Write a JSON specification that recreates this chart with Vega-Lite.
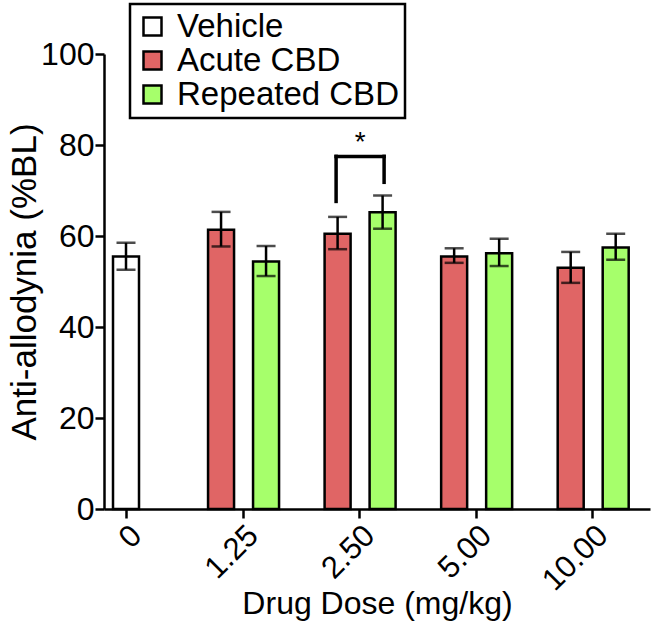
{
  "$schema": "https://vega.github.io/schema/vega-lite/v6.json",
  "width": 546,
  "height": 455,
  "autosize": "none",
  "padding": {"left": 104, "top": 54, "right": 2, "bottom": 114},
  "background": "white",
  "config": {
    "font": "Liberation Sans",
    "view": {"stroke": null},
    "axis": {
      "domainColor": "black", "domainWidth": 2.5, "tickColor": "black", "tickWidth": 2.5, "tickSize": 9,
      "labelColor": "black", "titleColor": "black", "grid": false,
      "labelFont": "Liberation Sans", "titleFont": "Liberation Sans", "titleFontWeight": "normal"
    }
  },
  "datasets": {
    "bars": [
      {"dose": "0", "group": "Vehicle", "mean": 55.5, "lo": 52.6, "hi": 58.5},
      {"dose": "1.25", "group": "Acute CBD", "mean": 61.4, "lo": 57.7, "hi": 65.3},
      {"dose": "1.25", "group": "Repeated CBD", "mean": 54.4, "lo": 51.2, "hi": 57.8},
      {"dose": "2.50", "group": "Acute CBD", "mean": 60.5, "lo": 57.1, "hi": 64.2},
      {"dose": "2.50", "group": "Repeated CBD", "mean": 65.2, "lo": 61.6, "hi": 68.9},
      {"dose": "5.00", "group": "Acute CBD", "mean": 55.5, "lo": 54.1, "hi": 57.3},
      {"dose": "5.00", "group": "Repeated CBD", "mean": 56.2, "lo": 53.4, "hi": 59.4},
      {"dose": "10.00", "group": "Acute CBD", "mean": 53.0, "lo": 49.7, "hi": 56.5},
      {"dose": "10.00", "group": "Repeated CBD", "mean": 57.5, "lo": 54.8, "hi": 60.5}
    ],
    "bracket": [
      {"dose": "2.50", "group": "Acute CBD", "bottom": 67.6, "top": 77.5},
      {"dose": "2.50", "group": "Repeated CBD", "bottom": 71.8, "top": 77.5}
    ],
    "star": [
      {"dose": "2.50", "label": "*", "y": 78.6}
    ]
  },
  "encoding": {
    "x": {
      "field": "dose", "type": "nominal",
      "scale": {"type": "point", "domain": ["0", "1.25", "2.50", "5.00", "10.00"], "padding": 0.3424, "align": 0.2757, "round": false},
      "axis": {
        "title": "Drug Dose (mg/kg)", "titleFontSize": 32, "labelFontSize": 31, "labelAngle": -45,
        "labelPadding": 2, "titleY": 104, "titleBaseline": "alphabetic"
      }
    }
  },
  "layer": [
    {
      "data": {"name": "bars"},
      "transform": [{"filter": "datum.group === 'Vehicle'"}],
      "layer": [
        {
          "mark": {"type": "bar", "width": 26, "stroke": "black", "strokeWidth": 2.5, "xOffset": 0},
          "encoding": {
            "y": {
              "field": "mean", "type": "quantitative",
              "scale": {"domain": [0, 100], "nice": false},
              "axis": {
                "title": "Anti-allodynia (%BL)", "titleFontSize": 35, "labelFontSize": 32, "values": [0, 20, 40, 60, 80, 100],
                "labelPadding": 1, "titleX": -69, "titleY": 227.5, "titleBaseline": "alphabetic", "titleAlign": "center", "titleAngle": -90
              }
            },
            "color": {
              "field": "group", "type": "nominal",
              "scale": {"domain": ["Vehicle", "Acute CBD", "Repeated CBD"], "range": ["#ffffff", "#e06565", "#a6ff6b"]},
              "legend": {
                "title": null, "orient": "none", "legendX": 26, "legendY": -50,
                "labelFontSize": 33, "labelColor": "black", "labelFont": "Liberation Sans", "labelLimit": 500,
                "symbolType": "square", "symbolSize": 324, "symbolStrokeColor": "black", "symbolStrokeWidth": 2.5,
                "strokeColor": "black", "fillColor": "white", "padding": 6, "rowPadding": 0, "labelOffset": 8,
                "encode": {"legend": {"update": {"strokeWidth": {"value": 2.5}}}}
              }
            }
          }
        },
        {
          "mark": {"type": "rule", "strokeWidth": 2.5, "color": "black", "xOffset": 0},
          "encoding": {"y": {"field": "lo", "type": "quantitative"}, "y2": {"field": "hi"}}
        },
        {
          "transform": [{"fold": ["lo", "hi"], "as": ["end", "val"]}],
          "mark": {"type": "tick", "orient": "horizontal", "size": 19, "thickness": 2.5, "color": "black", "xOffset": 0},
          "encoding": {"y": {"field": "val", "type": "quantitative"}}
        }
      ]
    },
    {
      "data": {"name": "bars"},
      "transform": [{"filter": "datum.group === 'Acute CBD'"}],
      "layer": [
        {
          "mark": {"type": "bar", "width": 26, "stroke": "black", "strokeWidth": 2.5, "xOffset": -21.5},
          "encoding": {
            "y": {"field": "mean", "type": "quantitative"},
            "color": {"field": "group", "type": "nominal"}
          }
        },
        {
          "mark": {"type": "rule", "strokeWidth": 2.5, "color": "black", "xOffset": -21.5},
          "encoding": {"y": {"field": "lo", "type": "quantitative"}, "y2": {"field": "hi"}}
        },
        {
          "transform": [{"fold": ["lo", "hi"], "as": ["end", "val"]}],
          "mark": {"type": "tick", "orient": "horizontal", "size": 19, "thickness": 2.5, "color": "black", "xOffset": -21.5},
          "encoding": {"y": {"field": "val", "type": "quantitative"}}
        }
      ]
    },
    {
      "data": {"name": "bars"},
      "transform": [{"filter": "datum.group === 'Repeated CBD'"}],
      "layer": [
        {
          "mark": {"type": "bar", "width": 26, "stroke": "black", "strokeWidth": 2.5, "xOffset": 23.5},
          "encoding": {
            "y": {"field": "mean", "type": "quantitative"},
            "color": {"field": "group", "type": "nominal"}
          }
        },
        {
          "mark": {"type": "rule", "strokeWidth": 2.5, "color": "black", "xOffset": 23.5},
          "encoding": {"y": {"field": "lo", "type": "quantitative"}, "y2": {"field": "hi"}}
        },
        {
          "transform": [{"fold": ["lo", "hi"], "as": ["end", "val"]}],
          "mark": {"type": "tick", "orient": "horizontal", "size": 19, "thickness": 2.5, "color": "black", "xOffset": 23.5},
          "encoding": {"y": {"field": "val", "type": "quantitative"}}
        }
      ]
    },
    {
      "data": {"name": "bracket"},
      "transform": [{"filter": "datum.group === 'Acute CBD'"}],
      "mark": {"type": "rule", "strokeWidth": 3.5, "color": "black", "xOffset": -23, "strokeCap": "square"},
      "encoding": {"y": {"field": "bottom", "type": "quantitative"}, "y2": {"field": "top"}}
    },
    {
      "data": {"name": "bracket"},
      "transform": [{"filter": "datum.group === 'Repeated CBD'"}],
      "mark": {"type": "rule", "strokeWidth": 3.5, "color": "black", "xOffset": 25, "strokeCap": "square"},
      "encoding": {"y": {"field": "bottom", "type": "quantitative"}, "y2": {"field": "top"}}
    },
    {
      "data": {"name": "bracket"},
      "transform": [{"filter": "datum.group === 'Acute CBD'"}],
      "mark": {"type": "rule", "strokeWidth": 3.5, "color": "black", "xOffset": -23, "x2Offset": 25, "strokeCap": "square"},
      "encoding": {"x2": {"field": "dose"}, "y": {"field": "top", "type": "quantitative"}}
    },
    {
      "data": {"name": "star"},
      "mark": {"type": "text", "fontSize": 28, "color": "black", "baseline": "alphabetic", "align": "center", "xOffset": 1, "font": "Liberation Sans"},
      "encoding": {"text": {"field": "label"}, "y": {"field": "y", "type": "quantitative"}}
    }
  ]
}
